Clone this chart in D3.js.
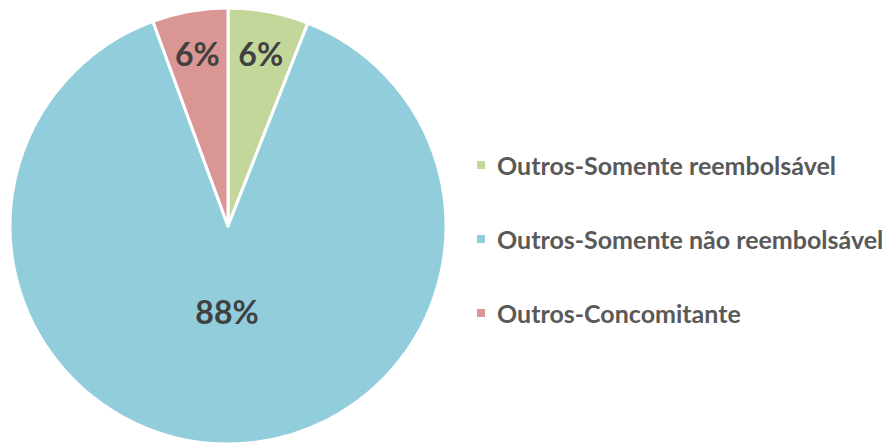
<!DOCTYPE html>
<html><head><meta charset="utf-8">
<script src="https://cdn.jsdelivr.net/npm/d3@7"></script>
<style>html,body{margin:0;padding:0;background:#fff;}svg{display:block;}</style>
</head><body>
<svg id="chart" width="887" height="443"></svg>
<script>
const categories = ["Outros-Somente reembolsável", "Outros-Somente não reembolsável", "Outros-Concomitante"];
const values = [5.97, 88.43, 5.6];
const labels = ["6%", "88%", "6%"];
const colors = ["#c4d79b", "#92cddc", "#da9694"];

const svg = d3.select("#chart");
const cx = 228, cy = 226, R = 218;
const g = svg.append("g").attr("transform", `translate(${cx},${cy})`);
const pie = d3.pie().sort(null).value(d => d)(values);
const arc = d3.arc().innerRadius(0).outerRadius(R);
g.selectAll("path.slice").data(pie).enter().append("path")
  .attr("d", arc).attr("fill", (d,i) => colors[i])
  .attr("stroke", "#fff").attr("stroke-width", 3).attr("stroke-linejoin","round");

const labelRadius = d => (d.endAngle - d.startAngle) > Math.PI ? 0.39*R : 0.805*R;
g.selectAll("text.lbl").data(pie).enter().append("text")
  .attr("transform", d => { const r = labelRadius(d); const c = d3.arc().innerRadius(r).outerRadius(r).centroid(d); return `translate(${c[0]},${c[1]})`; })
  .attr("text-anchor","middle").attr("dominant-baseline","central")
  .attr("font-family","Lato, 'Open Sans', sans-serif").attr("font-weight","bold")
  .attr("font-size", 32).attr("fill","#404040")
  .text((d,i) => labels[i]);

const leg = svg.append("g");
const ys = d3.scalePoint().domain(categories).range([165, 313]);
categories.forEach((c,i) => {
  const y = ys(c);
  leg.append("rect").attr("x",477).attr("y",y-4).attr("width",8).attr("height",8).attr("fill",colors[i]);
  leg.append("text").attr("x",497).attr("y",y).attr("dominant-baseline","central")
    .attr("font-family","Lato, 'Open Sans', sans-serif").attr("font-weight","bold")
    .attr("font-size",25).attr("fill","#595959").text(c);
});
</script>
</body></html>
